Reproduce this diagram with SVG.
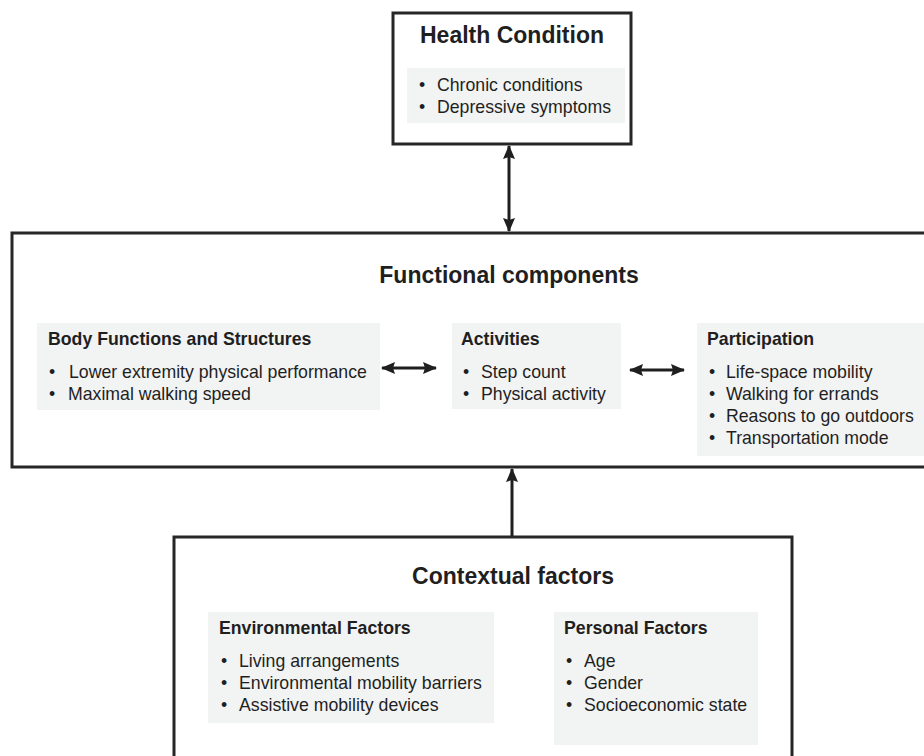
<svg xmlns="http://www.w3.org/2000/svg" width="924" height="756" viewBox="0 0 924 756">
<defs>
<style>
.box{fill:#fff;stroke:#262626;stroke-width:3}
.panel{fill:#f2f3f3;stroke:none}
.h1{font-family:"Liberation Sans",Arial,sans-serif;font-weight:bold;font-size:23px;fill:#1f1f1f;text-anchor:middle}
.h2{font-family:"Liberation Sans",Arial,sans-serif;font-weight:bold;font-size:17.7px;fill:#1f1f1f}
.t{font-family:"Liberation Sans",Arial,sans-serif;font-size:17.7px;fill:#1f1f1f}
.con{stroke:#1f1f1f;stroke-width:3;fill:none}
</style>
<marker id="ah" viewBox="0 0 14 12" refX="13" refY="6" markerWidth="14" markerHeight="12" markerUnits="userSpaceOnUse" orient="auto-start-reverse">
<path d="M0,0 L14,6 L0,12 L2,6 Z" fill="#1f1f1f"/>
</marker>
</defs>
<rect width="924" height="756" fill="#fff"/>

<g id="health-condition">
<rect class="box" x="393" y="13" width="238" height="131"/>
<text class="h1" x="512" y="43">Health Condition</text>
<rect class="panel" x="407" y="68" width="218" height="55"/>
<text class="t" x="419" y="91">•</text><text class="t" x="437" y="91">Chronic conditions</text>
<text class="t" x="419" y="113">•</text><text class="t" x="437" y="113">Depressive symptoms</text>
</g>

<g id="functional-components">
<rect class="box" x="12" y="233" width="920" height="234"/>
<text class="h1" x="509" y="283">Functional components</text>
</g>

<g id="body-functions">
<rect class="panel" x="37" y="323" width="343" height="87"/>
<text class="h2" x="48" y="345">Body Functions and Structures</text>
<text class="t" x="49" y="378">•</text><text class="t" x="69" y="378">Lower extremity physical performance</text>
<text class="t" x="49" y="400">•</text><text class="t" x="68" y="400">Maximal walking speed</text>
</g>

<g id="activities">
<rect class="panel" x="452" y="323" width="169" height="86"/>
<text class="h2" x="461" y="345">Activities</text>
<text class="t" x="463" y="378">•</text><text class="t" x="481" y="378">Step count</text>
<text class="t" x="463" y="400">•</text><text class="t" x="481" y="400">Physical  activity</text>
</g>

<g id="participation">
<rect class="panel" x="697" y="323" width="230" height="133"/>
<text class="h2" x="707" y="345">Participation</text>
<text class="t" x="709" y="378">•</text><text class="t" x="726" y="378">Life-space mobility</text>
<text class="t" x="709" y="400">•</text><text class="t" x="726" y="400">Walking for errands</text>
<text class="t" x="709" y="422">•</text><text class="t" x="726" y="422">Reasons to go outdoors</text>
<text class="t" x="709" y="444">•</text><text class="t" x="726" y="444">Transportation mode</text>
</g>

<g id="contextual-factors">
<rect class="box" x="174" y="537" width="618" height="240"/>
<text class="h1" x="513" y="584">Contextual factors</text>
</g>

<g id="environmental-factors">
<rect class="panel" x="208" y="612" width="286" height="111"/>
<text class="h2" x="219" y="634">Environmental Factors</text>
<text class="t" x="221" y="667">•</text><text class="t" x="239" y="667">Living arrangements</text>
<text class="t" x="221" y="689">•</text><text class="t" x="239" y="689">Environmental mobility barriers</text>
<text class="t" x="221" y="711">•</text><text class="t" x="239" y="711">Assistive mobility devices</text>
</g>

<g id="personal-factors">
<rect class="panel" x="554" y="612" width="204" height="133"/>
<text class="h2" x="564" y="634">Personal Factors</text>
<text class="t" x="566" y="667">•</text><text class="t" x="584" y="667">Age</text>
<text class="t" x="566" y="689">•</text><text class="t" x="584" y="689">Gender</text>
<text class="t" x="566" y="711">•</text><text class="t" x="584" y="711">Socioeconomic state</text>
</g>

<g id="connectors">
<line class="con" x1="509" y1="146" x2="509" y2="231" marker-start="url(#ah)" marker-end="url(#ah)"/>
<line class="con" x1="382" y1="368" x2="436" y2="368" marker-start="url(#ah)" marker-end="url(#ah)"/>
<line class="con" x1="630" y1="370" x2="684" y2="370" marker-start="url(#ah)" marker-end="url(#ah)"/>
<line class="con" x1="512" y1="536" x2="512" y2="469" marker-end="url(#ah)"/>
</g>
</svg>
